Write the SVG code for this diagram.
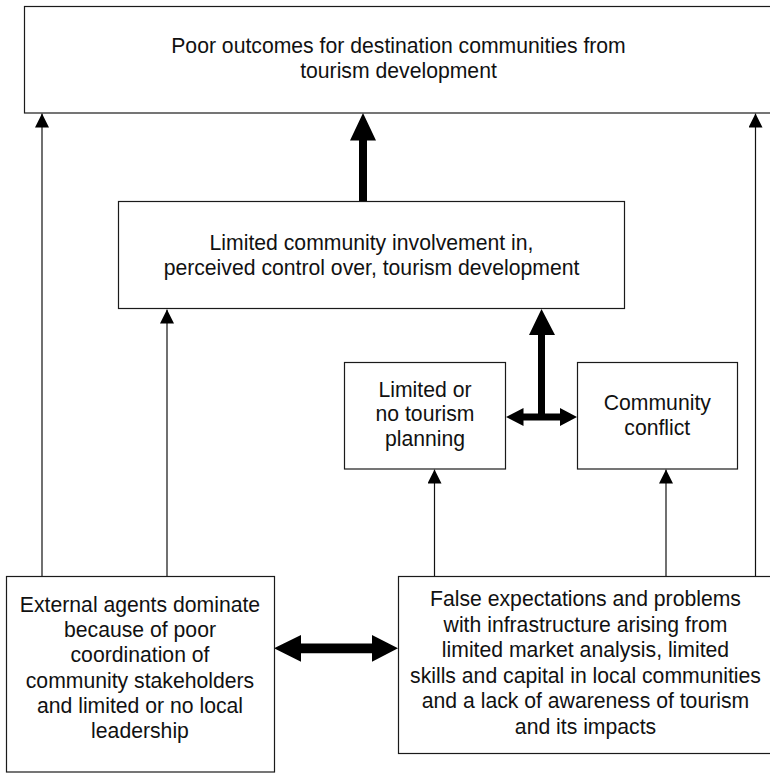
<svg xmlns="http://www.w3.org/2000/svg" width="770" height="773" viewBox="0 0 770 773">
  <defs>
    <style>
      .box { fill: #ffffff; stroke: #1a1a1a; stroke-width: 1.2; }
      .lbl { font-family: "Liberation Sans", Arial, sans-serif; font-size: 21.2px; fill: #111111; text-anchor: middle; }
      .thin { stroke: #111111; stroke-width: 1.2; fill: none; marker-end: url(#head); }
      .thick { fill: #000000; stroke: none; }
    </style>
    <marker id="head" markerUnits="userSpaceOnUse" markerWidth="14" markerHeight="14" refX="14" refY="7" orient="auto">
      <path d="M0,0 L14,7 L0,14 Z" fill="#000000"/>
    </marker>
  </defs>
  <rect width="770" height="773" fill="#ffffff"/>

  <g id="connectors">
    <!-- thin arrows -->
    <line class="thin" x1="42" y1="577" x2="42" y2="113.5"/>
    <line class="thin" x1="167" y1="577" x2="167" y2="309.5"/>
    <line class="thin" x1="434.5" y1="577" x2="434.5" y2="469.5"/>
    <line class="thin" x1="666" y1="577" x2="666" y2="469.5"/>
    <line class="thin" x1="755.5" y1="577" x2="755.5" y2="113.5"/>
    <!-- thick arrow: middle box to top box -->
    <polygon class="thick" points="359,202 359,140.5 350,140.5 363,113 376,140.5 367,140.5 367,202"/>
    <!-- thick T arrow: from planning/conflict up to middle box -->
    <polygon class="thick" points="538,413.5 538,335 529,335 541.5,309 555,335 545,335 545,413.5 560,413.5 560,408 577,417 560,426 560,420.5 523.5,420.5 523.5,426 506,417 523.5,408 523.5,413.5"/>
    <!-- thick double arrow bottom -->
    <polygon class="thick" points="274,648.3 301,635 301,643.5 372,643.5 372,635 398,648.3 372,661.7 372,653.2 301,653.2 301,661.7"/>
  </g>

  <g id="node-outcomes">
    <rect class="box" x="24.5" y="6.5" width="752" height="106.5"/>
    <text class="lbl" x="398.5" y="53.3">Poor outcomes for destination communities from</text>
    <text class="lbl" x="398.5" y="77.7">tourism development</text>
  </g>

  <g id="node-involvement">
    <rect class="box" x="118.5" y="201.5" width="506" height="107"/>
    <text class="lbl" x="371.5" y="249.5">Limited community involvement in,</text>
    <text class="lbl" x="371.5" y="274.8">perceived control over, tourism development</text>
  </g>

  <g id="node-planning">
    <rect class="box" x="344.5" y="362.5" width="161" height="106.5"/>
    <text class="lbl" x="425" y="396.7">Limited or</text>
    <text class="lbl" x="425" y="421.2">no tourism</text>
    <text class="lbl" x="425" y="445.7">planning</text>
  </g>

  <g id="node-conflict">
    <rect class="box" x="577.5" y="362.5" width="160" height="106.5"/>
    <text class="lbl" x="657.3" y="410">Community</text>
    <text class="lbl" x="657.3" y="434.5">conflict</text>
  </g>

  <g id="node-external">
    <rect class="box" x="6.5" y="576.5" width="268" height="195.5"/>
    <text class="lbl" x="140" y="612">External agents dominate</text>
    <text class="lbl" x="140" y="637">because of poor</text>
    <text class="lbl" x="140" y="662">coordination of</text>
    <text class="lbl" x="140" y="687.5">community stakeholders</text>
    <text class="lbl" x="140" y="712.5">and limited or no local</text>
    <text class="lbl" x="140" y="737.5">leadership</text>
  </g>

  <g id="node-expectations">
    <rect class="box" x="398.5" y="576.5" width="376" height="177"/>
    <text class="lbl" x="585.5" y="606">False expectations and problems</text>
    <text class="lbl" x="585.5" y="631.5">with infrastructure arising from</text>
    <text class="lbl" x="585.5" y="657">limited market analysis, limited</text>
    <text class="lbl" x="585.5" y="682.5">skills and capital in local communities</text>
    <text class="lbl" x="585.5" y="708">and a lack of awareness of tourism</text>
    <text class="lbl" x="585.5" y="733.5">and its impacts</text>
  </g>
</svg>
